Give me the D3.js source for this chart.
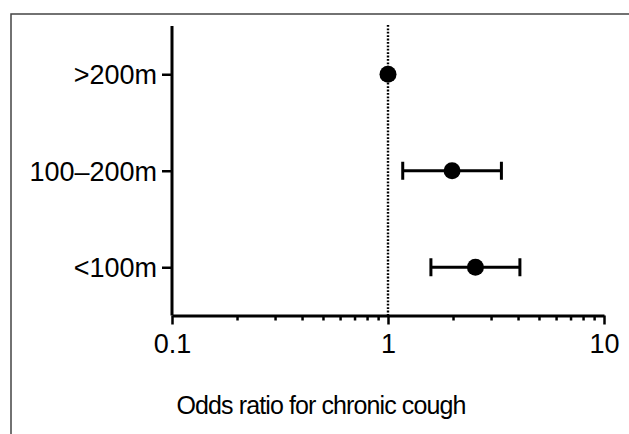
<!DOCTYPE html>
<html>
<head>
<meta charset="utf-8">
<script src="https://cdn.jsdelivr.net/npm/d3@7"></script>
<style>
html,body{margin:0;padding:0;background:#fff;}
svg{display:block;}
text{font-family:"Liberation Sans",Arial,Helvetica,sans-serif;fill:#000;}
</style>
</head>
<body>
<svg id="chart" width="629" height="434"></svg>
<script>
const categories = [">200m", "100–200m", "<100m"];
const oddsRatio = [1.0, 1.98, 2.54];
const ciLower = [null, 1.17, 1.58];
const ciUpper = [null, 3.35, 4.08];
const xTickValues = [0.1, 1, 10];
const xTickLabels = ["0.1", "1", "10"];
const xTitle = "Odds ratio for chronic cough";

const svg = d3.select("#chart");
const mLeft = 172, mRight = 604, mTop = 26, mBottom = 315.5;

// frame
svg.append("path")
  .attr("d", `M11,434 L11,14 L629,14`)
  .attr("fill", "none").attr("stroke", "#444").attr("stroke-width", 1.5);

const x = d3.scaleLog().domain([0.1, 10]).range([mLeft, mRight]);
const y = d3.scalePoint().domain(categories).range([mTop, mBottom]).padding(0.5);

// reference line at OR = 1
svg.append("line")
  .attr("x1", x(1)).attr("x2", x(1))
  .attr("y1", mTop - 1).attr("y2", mBottom)
  .attr("stroke", "#000").attr("stroke-width", 2.4)
  .attr("stroke-dasharray", "1.8,1.6");

// minor ticks
const minor = [];
[0.1, 1].forEach(d => { for (let k = 2; k <= 9; k++) minor.push(d * k); });
svg.append("g").attr("transform", `translate(0,${mBottom})`)
  .call(d3.axisBottom(x).tickValues(minor).tickSize(5).tickFormat(""))
  .call(g => g.select(".domain").remove())
  .call(g => g.selectAll("line").attr("stroke", "#000").attr("stroke-width", 2.5));

// major x axis
const xAxis = svg.append("g").attr("transform", `translate(0,${mBottom})`)
  .call(d3.axisBottom(x).tickValues(xTickValues).tickSize(9).tickSizeOuter(0)
    .tickFormat((d, i) => xTickLabels[i]));
xAxis.select(".domain").attr("stroke", "#000").attr("stroke-width", 3);
xAxis.selectAll("line").attr("stroke", "#000").attr("stroke-width", 2.5);
xAxis.selectAll("text").attr("font-size", 27).attr("dy", 0).attr("y", 37)
  .attr("font-family", "Liberation Sans, Arial, sans-serif").attr("fill", "#000");

// y axis
const yAxis = svg.append("g").attr("transform", `translate(${mLeft},0)`)
  .call(d3.axisLeft(y).tickSize(10).tickSizeOuter(0).tickPadding(5));
yAxis.select(".domain").attr("stroke", "#000").attr("stroke-width", 3)
  .attr("d", `M0,${mTop}V${mBottom}`);
yAxis.selectAll("line").attr("stroke", "#000").attr("stroke-width", 2.5);
yAxis.selectAll("text").attr("font-size", 27).attr("dy", "0.36em")
  .attr("font-family", "Liberation Sans, Arial, sans-serif").attr("fill", "#000");

// error bars
const rows = categories.map((c, i) => ({c, or: oddsRatio[i], lo: ciLower[i], hi: ciUpper[i]}));
const eb = svg.append("g");
rows.filter(d => d.lo != null).forEach(d => {
  eb.append("line").attr("x1", x(d.lo)).attr("x2", x(d.hi))
    .attr("y1", y(d.c)).attr("y2", y(d.c)).attr("stroke", "#000").attr("stroke-width", 3);
  [d.lo, d.hi].forEach(v => {
    eb.append("line").attr("x1", x(v)).attr("x2", x(v))
      .attr("y1", y(d.c) - 9).attr("y2", y(d.c) + 9)
      .attr("stroke", "#000").attr("stroke-width", 3);
  });
});

// points
svg.append("g").selectAll("circle").data(rows).join("circle")
  .attr("cx", d => x(d.or)).attr("cy", d => y(d.c)).attr("r", 8.5).attr("fill", "#000");

// title
svg.append("text").attr("x", 321).attr("y", 414).attr("text-anchor", "middle")
  .attr("font-size", 25).attr("letter-spacing", -0.9).text(xTitle);
</script>
</body>
</html>
